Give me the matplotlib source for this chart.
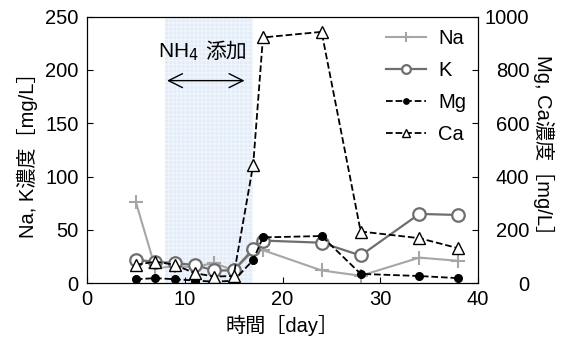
import matplotlib
matplotlib.use("Agg")
import matplotlib.pyplot as plt

plt.rcParams["font.family"] = ["Liberation Sans", "Noto Sans CJK JP", "DejaVu Sans"]
plt.rcParams["font.size"] = 14.5

# Sampling days and concentrations [mg/L]
days = [5, 7, 9, 11, 13, 15, 17, 18, 24, 28, 34, 38]
na = [76, 14, 16, 15, 19, 12, 30, 31, 12, 7, 24, 21]
k = [22, 20, 19, 17, 12, 12, 32, 40, 38, 26, 65, 64]
mg = [15, 19, 15, 10, 6, 9, 87, 172, 177, 35, 27, 19]
ca = [69, 81, 69, 38, 25, 27, 444, 922, 943, 194, 169, 131]

nh4_start, nh4_end = 8, 17

fig = plt.figure(figsize=(5.65, 3.4), dpi=100)
ax = fig.add_axes([0.154, 0.167, 0.692, 0.784])
ax2 = ax.twinx()

ax.axvspan(nh4_start, nh4_end, facecolor="#e1ecf8", edgecolor="#f0f5fb",
           hatch="++++", zorder=0, lw=0)

l1, = ax.plot(days, na, color="#a6a6a6", marker="+", markersize=10, mew=1.5,
              lw=1.5, label="Na", zorder=3)
l2, = ax.plot(days, k, color="#6e6e6e", marker="o", markersize=9, mfc="white",
              mec="#6e6e6e", mew=1.6, lw=1.6, label="K", zorder=3)
l3, = ax2.plot(days, mg, color="black", ls="--", marker="o", markersize=5.5,
               lw=1.3, label="Mg")
l4, = ax2.plot(days, ca, color="black", ls="--", marker="^", markersize=8,
               mfc="white", lw=1.3, label="Ca")

ax.set_xlim(0, 40)
ax.set_ylim(0, 250)
ax2.set_ylim(0, 1000)
ax.set_xticks([0, 10, 20, 30, 40])
ax.set_yticks([0, 50, 100, 150, 200, 250])
ax2.set_yticks([0, 200, 400, 600, 800, 1000])
ax.tick_params(direction="in", length=4, pad=5)
ax.tick_params(axis="y", pad=6)
ax2.tick_params(direction="in", length=4, pad=37)
for t in ax2.get_yticklabels():
    t.set_horizontalalignment("right")

ax.set_xlabel("時間［day］", labelpad=4)
ax.set_ylabel("Na, K濃度［mg/L］", labelpad=5)
ax2.set_ylabel("Mg, Ca濃度［mg/L］", rotation=-90, labelpad=18)

ax.text(11.4, 217, "NH$_4$", ha="right", va="center", fontsize=15)
ax.text(12.1, 217, "添加", ha="left", va="center", fontsize=15)
ax.annotate("", xy=(7.9, 190), xytext=(16.4, 190),
            arrowprops=dict(arrowstyle="<->", lw=1, mutation_scale=25))

ax2.legend(handles=[l1, l2, l3, l4], loc="upper right", frameon=False,
           handlelength=2.0, labelspacing=0.65, borderaxespad=0.2,
           handletextpad=0.6, markerscale=0.7)

fig.savefig("out.png", dpi=100)
